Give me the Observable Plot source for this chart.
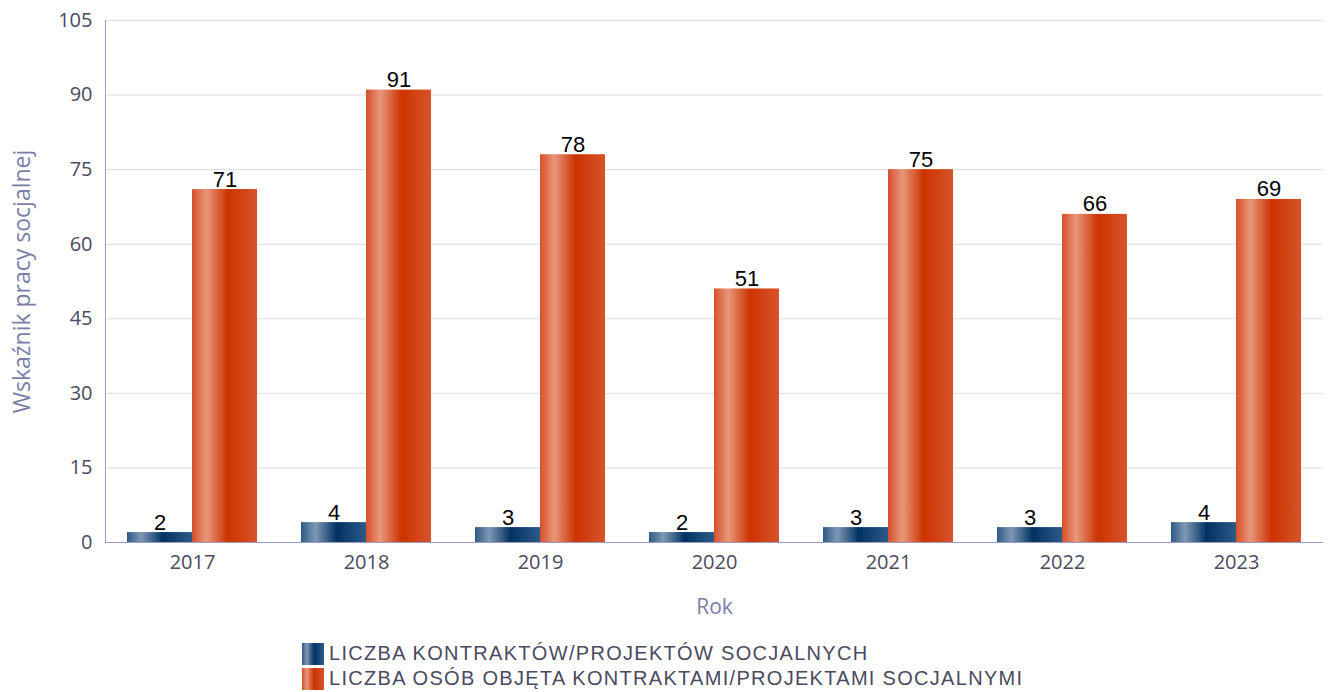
<!DOCTYPE html>
<html><head><meta charset="utf-8">
<script src="https://cdn.jsdelivr.net/npm/d3@7"></script>
<script src="https://cdn.jsdelivr.net/npm/@observablehq/plot@0.6"></script>
<style>
body{margin:0;background:#fff;font-family:"Open Sans",sans-serif;}
#legend{position:relative;margin-left:302px;margin-top:16px;}
.item{display:flex;align-items:center;height:25px;font-family:"Liberation Sans",Arial,sans-serif;font-size:20px;letter-spacing:1.3px;color:#4a4a60;white-space:nowrap;}
.sw{width:22px;height:22px;margin-right:5px;}
</style>
</head><body>
<div id="chart"></div>
<div id="legend"></div>
<script>
const years = ["2017","2018","2019","2020","2021","2022","2023"];
const seriesNames = ["LICZBA KONTRAKTÓW/PROJEKTÓW SOCJALNYCH","LICZBA OSÓB OBJĘTA KONTRAKTAMI/PROJEKTAMI SOCJALNYMI"];
const contracts = [2,4,3,2,3,3,4];
const persons = [71,91,78,51,75,66,69];
const yTicks = [0,15,30,45,60,75,90,105];

const data = [];
years.forEach((y,i)=>{
  data.push({year:y, series:0, value:contracts[i]});
  data.push({year:y, series:1, value:persons[i]});
});

const blueStops = ["#2e5a86","#7f98b4","#013262","#2d5b88"];
const orangeStops = ["#d6502a","#e8977c","#cc3300","#d8542b"];

const defsMark = () => {
  const ns="http://www.w3.org/2000/svg";
  const defs=document.createElementNS(ns,"defs");
  const g=(id,s)=>`<linearGradient id="${id}" x1="0" x2="1" y1="0" y2="0">
    <stop offset="0" stop-color="${s[0]}"/><stop offset="0.22" stop-color="${s[1]}"/>
    <stop offset="0.55" stop-color="${s[2]}"/><stop offset="1" stop-color="${s[3]}"/></linearGradient>`;
  defs.innerHTML=g("gBlue",blueStops)+g("gOrange",orangeStops);
  return defs;
};

const chart = Plot.plot({
  width:1329, height:625,
  marginTop:20, marginBottom:83, marginLeft:105, marginRight:6,
  style:{fontFamily:"Open Sans, sans-serif", fontSize:"20px", color:"#4a4a60", background:"#fff"},
  fx:{domain:years, padding:0, label:"Rok"},
  x:{domain:[0,1], paddingInner:0, paddingOuter:1/3, axis:null},
  y:{domain:[0,105], ticks:yTicks},
  marks:[
    defsMark,
    Plot.gridY(yTicks,{stroke:"#dcdce4", strokeOpacity:1}),
    Plot.frame({anchor:"left", stroke:"#9c9cc4", facetAnchor:"left"}),
    Plot.barY(data.filter(d=>d.series===0),{fx:"year", x:"series", y:"value", fill:"url(#gBlue)"}),
    Plot.barY(data.filter(d=>d.series===1),{fx:"year", x:"series", y:"value", fill:"url(#gOrange)"}),
    Plot.text(data,{fx:"year", x:"series", y:"value", text:d=>String(d.value), lineAnchor:"bottom", dy:-3, fontSize:22, fontFamily:"Liberation Sans, Arial, sans-serif", fill:"#000"}),
    Plot.ruleY([0],{stroke:"#9c9cc4"}),
    Plot.axisY(yTicks,{tickSize:0, tickPadding:13, fontSize:20, fill:"#4a4a60", label:"Wskaźnik pracy socjalnej", labelAnchor:"center", labelArrow:"none", labelOffset:92}),
    Plot.axisFx({anchor:"bottom", tickSize:0, tickPadding:12, fontSize:20, fill:"#4a4a60", label:"Rok", labelAnchor:"center", labelArrow:"none", labelOffset:71})
  ]
});
document.getElementById("chart").appendChild(chart);

chart.querySelectorAll('[aria-label="y-axis label"] text').forEach(t=>{
  t.setAttribute("fill","#7a7ea8"); t.style.fontSize="23px";
});
chart.querySelectorAll('[aria-label="fx-axis label"] text').forEach(t=>{
  t.setAttribute("fill","#7a7ea8"); t.style.fontSize="21px";
});

const leg=document.getElementById("legend");
[blueStops,orangeStops].forEach((s,i)=>{
  const it=document.createElement("div"); it.className="item";
  const sw=document.createElement("div"); sw.className="sw";
  sw.style.background=`linear-gradient(to right, ${s[0]} 0%, ${s[1]} 22%, ${s[2]} 55%, ${s[3]} 100%)`;
  const tx=document.createElement("span"); tx.textContent=seriesNames[i];
  it.appendChild(sw); it.appendChild(tx); leg.appendChild(it);
});
</script>
</body></html>
